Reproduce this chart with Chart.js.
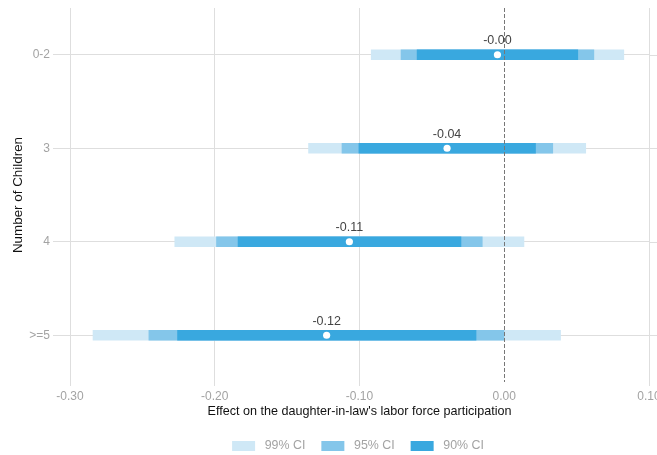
<!DOCTYPE html>
<html>
<head>
<meta charset="utf-8">
<title>Effect by number of children</title>
<script src="https://cdn.jsdelivr.net/npm/chart.js@4.4.1/dist/chart.umd.min.js"></script>
<style>
  html, body { margin: 0; padding: 0; background: #ffffff; }
  #wrap { width: 657px; height: 455px; }
</style>
</head>
<body>
<div id="wrap"><canvas id="c" width="657" height="455"></canvas></div>
<script>
// Categories (number of children) and point estimates
const categories = ['0-2', '3', '4', '>=5'];
const estimates  = [-0.0047, -0.0395, -0.1070, -0.1227];

// Confidence interval bounds per category
const ci90Low  = [-0.0602, -0.1004, -0.1839, -0.2257];
const ci90High = [ 0.0508,  0.0216, -0.0299, -0.0195];
const ci95Low  = [-0.0713, -0.1121, -0.1988, -0.2455];
const ci95High = [ 0.0619,  0.0335, -0.0152, -0.0002];
const ci99Low  = [-0.0919, -0.1352, -0.2276, -0.2841];
const ci99High = [ 0.0826,  0.0563,  0.0136,  0.0389];

// x-axis tick values
const xTicks = [-0.30, -0.20, -0.10, 0.00, 0.10];

const FONT = "'Liberation Sans', Arial, Helvetica, sans-serif";
const GRID = '#dedede';
const TICK = '#a3a3a3';

const pairs = (lo, hi) => lo.map((v, i) => [v, hi[i]]);

// Carry the category gridlines on to the right edge of the canvas
const gridRun = {
  id: 'gridRun',
  beforeDatasetsDraw(chart) {
    const { ctx, chartArea, scales } = chart;
    ctx.save();
    ctx.strokeStyle = GRID;
    ctx.lineWidth = 1;
    scales.y.ticks.forEach((t, i) => {
      const y = Math.round(scales.y.getPixelForTick(i)) + 0.5;
      ctx.beginPath();
      ctx.moveTo(chartArea.right, y);
      ctx.lineTo(chart.width, y);
      ctx.stroke();
    });
    ctx.restore();
  }
};

// Dashed reference line at zero
const zeroLine = {
  id: 'zeroLine',
  afterDatasetsDraw(chart) {
    const { ctx, chartArea, scales } = chart;
    const x = Math.round(scales.x.getPixelForValue(0)) + 0.5;
    ctx.save();
    ctx.strokeStyle = '#777777';
    ctx.lineWidth = 1;
    ctx.setLineDash([4, 2]);
    ctx.beginPath();
    ctx.moveTo(x, chartArea.top);
    ctx.lineTo(x, chartArea.bottom);
    ctx.stroke();
    ctx.restore();
  }
};

// Estimate labels above each point
const estimateLabels = {
  id: 'estimateLabels',
  afterDatasetsDraw(chart) {
    const { ctx, scales } = chart;
    ctx.save();
    ctx.font = '12.5px ' + FONT;
    ctx.fillStyle = '#444444';
    ctx.textAlign = 'center';
    ctx.textBaseline = 'middle';
    estimates.forEach((v, i) => {
      const x = scales.x.getPixelForValue(v);
      const y = scales.y.getPixelForValue(i) - 14;
      ctx.fillText(v.toFixed(2), x, y);
    });
    ctx.restore();
  }
};

// Place the legend row near the bottom edge, centred under the plot
const legendShift = {
  id: 'legendShift',
  afterLayout(chart) {
    const lg = chart.legend;
    if (!lg) return;
    const dy = 443 - (lg.top + lg.height / 2);
    lg.top += dy; lg.bottom += dy;
    const dx = 358 - (lg.left + lg.right) / 2;
    lg.left += dx; lg.right += dx;
  }
};

new Chart(document.getElementById('c'), {
  type: 'bar',
  data: {
    labels: categories,
    datasets: [
      {
        label: '90% CI',
        data: pairs(ci90Low, ci90High),
        backgroundColor: '#39a8df',
        borderWidth: 0,
        order: 1
      },
      {
        label: '95% CI',
        data: pairs(ci95Low, ci95High),
        backgroundColor: '#84c6ea',
        borderWidth: 0,
        order: 1
      },
      {
        label: '99% CI',
        data: pairs(ci99Low, ci99High),
        backgroundColor: '#cfe8f6',
        borderWidth: 0,
        order: 1
      },
      {
        type: 'line',
        label: 'Estimate',
        data: estimates,
        indexAxis: 'y',
        showLine: false,
        pointRadius: 3.6,
        pointBackgroundColor: '#ffffff',
        pointBorderWidth: 0,
        borderColor: '#ffffff',
        order: 0
      }
    ]
  },
  options: {
    indexAxis: 'y',
    responsive: false,
    devicePixelRatio: 1,
    animation: false,
    layout: { autoPadding: false, padding: { top: 8, right: 8, left: 0, bottom: 0 } },
    datasets: {
      bar: { grouped: false, barThickness: 10 }
    },
    scales: {
      x: {
        type: 'linear',
        min: -0.30,
        max: 0.10,
        afterBuildTicks(scale) {
          scale.ticks = xTicks.map(v => ({ value: v }));
        },
        afterFit(scale) {
          const lh = scale.chart.legend ? scale.chart.legend.height : 0;
          scale.height = scale.chart.height - lh - 382;
          scale.paddingLeft = 0;
          scale.paddingRight = 0;
        },
        border: { display: false },
        grid: {
          color: ctx => (ctx.tick && Math.abs(ctx.tick.value) < 1e-9) ? 'rgba(0,0,0,0)' : GRID,
          tickLength: 4,
          lineWidth: 1
        },
        ticks: {
          color: TICK,
          font: { family: FONT, size: 12 },
          padding: 3,
          maxRotation: 0,
          callback: v => Number(v).toFixed(2)
        },
        title: {
          display: true,
          text: "Effect on the daughter-in-law's labor force participation",
          color: '#111111',
          font: { family: FONT, size: 12.6 },
          padding: { top: 4, bottom: -2 }
        }
      },
      y: {
        type: 'category',
        offset: true,
        afterFit(scale) {
          scale.width = 70;
          scale.paddingTop = 0;
          scale.paddingBottom = 0;
        },
        border: { display: false },
        grid: { color: GRID, tickLength: 17, offset: false },
        ticks: {
          color: TICK,
          font: { family: FONT, size: 12 },
          padding: 3
        },
        title: {
          display: true,
          text: 'Number of Children',
          color: '#111111',
          font: { family: FONT, size: 13.4 },
          padding: { top: 10, bottom: 4 }
        }
      }
    },
    plugins: {
      legend: {
        position: 'bottom',
        reverse: true,
        labels: {
          filter: item => item.datasetIndex !== 3,
          generateLabels(chart) {
            const items = Chart.defaults.plugins.legend.labels.generateLabels(chart);
            items.forEach(it => { it.text = ' ' + it.text; it.lineWidth = 0; });
            return items;
          },
          boxWidth: 23,
          boxHeight: 10,
          padding: 16,
          color: TICK,
          font: { family: FONT, size: 12.4 }
        }
      },
      tooltip: { enabled: false }
    }
  },
  plugins: [gridRun, zeroLine, estimateLabels, legendShift]
});
</script>
</body>
</html>
